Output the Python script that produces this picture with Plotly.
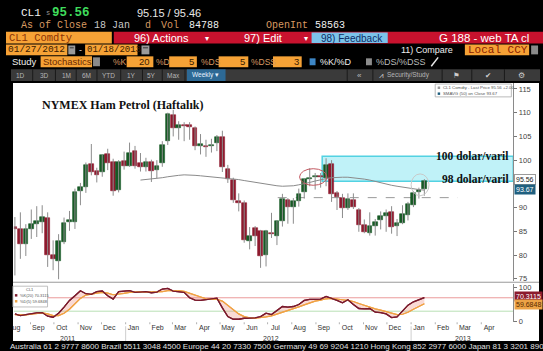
import plotly.graph_objects as go
import pandas as pd

W, H = 543, 351

# ---------------- data ----------------
week_dates = pd.date_range("2011-08-12", periods=76, freq="7D")

opens = [86.0, 85.5, 82.4, 85.4, 86.5, 87.0, 87.8, 80.0, 78.8, 82.7,
         87.0, 87.0, 93.4, 94.4, 99.2, 97.6, 97.5, 101.2, 99.6, 93.7,
         99.9, 98.8, 102.0, 99.4, 98.5, 99.6, 97.9, 99.4, 104.0, 109.6,
         106.8, 107.5, 107.3, 106.8, 103.0, 103.0, 102.9, 103.7, 104.9, 98.2,
         95.9, 91.3, 91.0, 83.0, 85.7, 85.1, 80.0, 84.6, 84.1, 87.1,
         91.5, 90.1, 91.4, 93.3, 96.0, 96.4, 96.5, 96.2, 99.2, 93.1,
         92.0, 90.0, 91.5, 89.4, 86.4, 84.6, 86.2, 87.4, 88.3, 89.0,
         86.2, 86.7, 88.5, 90.6, 93.2, 93.9]
highs = [88.0, 89.0, 86.5, 89.6, 90.3, 90.5, 89.0, 83.1, 84.4, 87.9,
         89.3, 94.0, 95.2, 99.5, 103.4, 98.4, 101.2, 102.4, 100.3, 100.0,
         101.8, 103.7, 103.0, 101.5, 100.5, 100.1, 100.0, 104.0, 110.0, 110.6,
         108.2, 108.0, 108.0, 107.1, 105.5, 104.3, 104.5, 105.3, 106.2, 99.0,
         96.3, 93.0, 91.5, 85.9, 86.1, 85.3, 85.3, 88.9, 87.2, 92.9,
         92.0, 92.0, 94.0, 96.1, 98.3, 97.3, 97.3, 100.4, 100.0, 93.5,
         92.9, 93.0, 93.0, 89.9, 87.5, 89.0, 87.6, 89.2, 89.6, 90.3,
         87.6, 90.5, 91.2, 93.5, 94.2, 96.0]
lows = [75.7, 79.2, 79.8, 83.4, 83.8, 84.6, 77.5, 76.8, 74.9, 82.3,
        85.1, 85.5, 90.5, 93.1, 96.8, 95.3, 96.5, 97.9, 92.5, 93.2,
        98.0, 98.6, 98.2, 97.6, 97.6, 95.4, 96.2, 98.6, 103.2, 105.0,
        104.3, 104.0, 104.3, 102.1, 101.2, 100.7, 101.6, 101.9, 97.5, 95.2,
        91.0, 89.2, 82.6, 81.2, 81.9, 77.3, 77.6, 83.6, 82.1, 86.0,
        86.6, 86.6, 90.2, 91.9, 94.5, 93.8, 94.2, 94.5, 91.2, 89.5,
        87.8, 89.5, 89.7, 84.9, 84.6, 84.1, 84.1, 85.4, 84.9, 84.5,
        84.0, 86.5, 87.3, 90.1, 91.9, 92.5]
closes = [85.4, 82.3, 85.4, 86.5, 87.2, 88.0, 79.9, 79.2, 83.0, 86.8,
          87.4, 93.3, 94.3, 99.0, 97.4, 96.8, 101.0, 99.4, 93.5, 99.7,
          98.8, 101.6, 98.7, 98.5, 99.6, 97.8, 98.7, 103.2, 109.8, 106.7,
          107.4, 107.1, 106.9, 103.0, 103.3, 102.8, 103.1, 104.9, 98.5, 96.1,
          91.5, 90.9, 83.2, 84.1, 84.0, 79.8, 85.0, 84.5, 87.1, 91.8,
          90.1, 91.4, 92.9, 96.0, 96.2, 96.5, 96.4, 99.0, 92.9, 92.2,
          89.9, 91.9, 90.1, 86.3, 84.9, 86.1, 86.9, 88.3, 88.9, 85.9,
          86.7, 88.7, 90.8, 93.1, 93.6, 95.56]

ma_first_week = 23
sma50 = [95.8, 95.9, 96.0, 96.1, 96.3, 96.5, 96.7, 96.8, 96.9, 96.9,
         96.8, 96.7, 96.6, 96.5, 96.4, 96.3, 96.2, 96.1, 95.9, 95.7,
         95.5, 95.3, 95.1, 94.9, 94.7, 94.6, 94.5, 94.5, 94.6, 94.8,
         95.0, 95.3, 95.6, 95.9, 96.1, 96.3, 96.4, 96.4, 96.4, 96.3,
         96.2, 96.0, 95.8, 95.5, 95.2, 94.9, 94.7, 94.5, 94.3, 94.1,
         93.9, 93.8, 93.67]

pct_k = [22, 17, 20, 23, 25, 26, 15, 12, 24, 42,
         62, 76, 91, 82, 80, 88, 90, 76, 66, 88,
         90, 91, 86, 87, 88, 85, 87, 96, 98, 90,
         88, 86, 70, 63, 62, 64, 66, 69, 40, 14,
         6, 6, 9, 10, 10, 14, 24, 20, 32, 44,
         42, 44, 50, 62, 65, 66, 66, 74, 69, 62,
         55, 64, 50, 38, 37, 38, 27, 26, 22, 11,
         13, 30, 48, 58, 63, 70.31]
pct_d = [20, 19, 19, 21, 23, 25, 22, 17, 17, 24,
         36, 52, 68, 78, 82, 84, 86, 84, 79, 80,
         83, 86, 88, 88, 87, 87, 86, 88, 91, 92,
         91, 89, 84, 78, 72, 67, 65, 65, 60, 48,
         34, 22, 14, 10, 9, 10, 13, 16, 21, 28,
         33, 38, 43, 49, 55, 60, 63, 67, 68, 67,
         64, 62, 59, 53, 47, 42, 37, 33, 29, 24,
         20, 21, 27, 36, 45, 52]

price_ticks = [75, 80, 85, 90, 100, 105, 110, 115]
osc_ticks = [0, 100]
osc_upper, osc_lower = 70, 30

# month labels sit a little after each month start, as in the terminal
month_starts = pd.date_range("2011-08-01", "2013-04-01", freq="MS")
month_label_pos = [m + pd.Timedelta(days=10) for m in month_starts]
month_label_txt = [m.strftime("%b") for m in month_starts]

# annotation geometry (data coordinates)
zone_start, zone_end = "2012-09-09", "2013-05-12"
zone_top, zone_bottom = 100.8, 95.56
ellipse_x = ("2012-08-11", "2012-09-15")
ellipse_y = (94.7, 98.2)
circle_x = ("2013-01-01", "2013-01-24")
circle_y = (92.5, 97.1)
support_x = ("2012-07-14", "2013-03-02")
support_y = 92.1
year_labels = [("2011", "2011-10-18"), ("2012", "2012-07-05"), ("2013", "2013-03-09")]
year_breaks = ["2012-01-01", "2013-01-01"]

# ---------------- helpers ----------------
MONO = "Liberation Mono"
SANS = "Liberation Sans"
SERIF = "Liberation Serif"
ORANGE = "#f6a236"
RED = "#c8122e"
BLUE = "#7cc3ea"
TAN = "#d89a62"

def px(x):
    return x / W

def py(y):
    return 1 - y / H

shapes = []
annotations = []

def rect(x0, y0, x1, y1, fill, line=None, lw=1, layer="above"):
    shapes.append(dict(type="rect", xref="paper", yref="paper",
                       x0=px(x0), x1=px(x1), y0=py(y1), y1=py(y0),
                       fillcolor=fill, layer=layer,
                       line=dict(color=line or fill, width=lw if line else 0)))

def seg(x0, y0, x1, y1, color, lw=1, dash="solid", layer="above"):
    shapes.append(dict(type="line", xref="paper", yref="paper",
                       x0=px(x0), x1=px(x1), y0=py(y0), y1=py(y1),
                       layer=layer, line=dict(color=color, width=lw, dash=dash)))

def text(x, y, s, size, color, family=SANS, anchor="left", bold=False, bg=None, border=None):
    d = dict(x=px(x), y=py(y), xref="paper", yref="paper",
             text=("<b>%s</b>" % s) if bold else s, showarrow=False,
             xanchor=anchor, yanchor="middle", borderpad=0,
             font=dict(size=size, color=color, family=family))
    if bg:
        d["bgcolor"] = bg
        d["borderpad"] = 1
    if border:
        d["bordercolor"] = border
        d["borderwidth"] = 1
    annotations.append(d)

# ---------------- traces ----------------
fig = go.Figure()

wx, wy = [], []
for d, lo, hi in zip(week_dates, lows, highs):
    wx += [d, d, None]
    wy += [lo, hi, None]
fig.add_trace(go.Scatter(x=wx, y=wy, mode="lines", line=dict(color="#8c8c8c", width=1),
                         hoverinfo="skip", xaxis="x", yaxis="y"))

body_base = [min(o, c) for o, c in zip(opens, closes)]
body_len = [max(abs(c - o), 0.15) for o, c in zip(opens, closes)]
body_col = ["#175a26" if c >= o else "#8e1a2e" for o, c in zip(opens, closes)]
fig.add_trace(go.Bar(x=week_dates, y=body_len, base=body_base,
                     width=6 * 86400000, marker=dict(color=body_col, line=dict(color=body_col, width=0.6)),
                     xaxis="x", yaxis="y"))

fig.add_trace(go.Scatter(x=week_dates[ma_first_week:], y=sma50, mode="lines",
                         line=dict(color="#8a8a8a", width=1), xaxis="x", yaxis="y"))

fig.add_trace(go.Scatter(x=week_dates, y=pct_d, mode="lines", line=dict(color="#f0a244", width=1.2),
                         xaxis="x", yaxis="y2"))
fig.add_trace(go.Scatter(x=week_dates, y=pct_k, mode="lines", line=dict(color="#7a1a2c", width=1.3),
                         fill="tonexty", fillcolor="rgba(236,140,125,0.32)", xaxis="x", yaxis="y2"))
fig.add_trace(go.Scatter(x=week_dates, y=pct_d, mode="lines", line=dict(color="#f0a244", width=1.2),
                         xaxis="x", yaxis="y2"))
fig.add_trace(go.Scatter(x=week_dates, y=pct_k, mode="lines", line=dict(color="#7a1a2c", width=1.3),
                         xaxis="x", yaxis="y2"))

# ---------------- background / frame shapes ----------------
rect(7, 84, 539, 345, "white", layer="below")
shapes.append(dict(type="rect", xref="x", yref="y", x0=zone_start, x1=zone_end,
                   y0=zone_bottom, y1=zone_top, fillcolor="rgba(150,234,244,0.6)",
                   line=dict(color="#52d2e2", width=1.5), layer="below"))
shapes.append(dict(type="line", xref="x", yref="y", x0=support_x[0], x1=support_x[1],
                   y0=support_y, y1=support_y, line=dict(color="#9a9a9a", width=1, dash="dash"),
                   layer="below"))
shapes.append(dict(type="circle", xref="x", yref="y", x0=ellipse_x[0], x1=ellipse_x[1],
                   y0=ellipse_y[0], y1=ellipse_y[1], line=dict(color="#c45a62", width=1)))
shapes.append(dict(type="circle", xref="x", yref="y", x0=circle_x[0], x1=circle_x[1],
                   y0=circle_y[0], y1=circle_y[1], line=dict(color="#c9c9c9", width=1)))
for lv, col in ((osc_upper, "#eb9a9a"), (osc_lower, "#b9e0b4")):
    shapes.append(dict(type="line", xref="x domain", yref="y2", x0=0, x1=1, y0=lv, y1=lv,
                       line=dict(color=col, width=1), layer="below"))
for yb in year_breaks:
    shapes.append(dict(type="line", xref="x", yref="paper", x0=yb, x1=yb,
                       y0=py(345), y1=py(330), line=dict(color="#cfcfcf", width=1)))
for m in month_starts:
    shapes.append(dict(type="line", xref="x", yref="paper", x0=m, x1=m,
                       y0=py(328), y1=py(326), line=dict(color="#b0b0b0", width=1)))
seg(7, 285.5, 539, 285.5, "#9a9a9a", 1)

rect(0, 82, 7, 351, "black")
rect(539, 82, 543, 351, "black")
rect(0, 345, 543, 351, "black")

# ---------------- header ----------------
text(14, 13, "CL1", 11, "#f0f0f0", MONO)
text(39, 13, "s", 7, "#9a9a9a", MONO)
text(46, 13, "95.56", 12.5, "#3fdc5c", MONO, bold=True)
text(131, 13, "95.15 / 95.46", 11, "#e6e6e6", SANS)

text(14, 26, "As of Close", 10, TAN, MONO)
text(88, 26, "18 Jan", 10, "#c9c9c9", MONO)
text(140, 26, "d", 10, TAN, MONO)
text(156, 26, "Vol", 10, TAN, MONO)
text(184, 26, "84788", 10, "#f0f0f0", MONO)
text(262, 26, "OpenInt", 10, TAN, MONO)
text(311, 26, "58563", 10, "#f0f0f0", MONO)

rect(0, 32, 107, 44, ORANGE)
rect(109, 32, 543, 44, RED)
rect(309, 33, 386, 43.5, BLUE)
text(2, 38, "CL1 Comdty", 10.5, "#8a3206", MONO)
text(128, 38.5, "96) Actions", 11, "white", SANS)
text(200, 38.5, "▾", 8, "white", SANS)
text(240, 38.5, "97) Edit", 11, "white", SANS)
text(300, 38.5, "▾", 8, "white", SANS)
text(318, 38.5, "98) Feedback", 10, "#0d2c66", SANS)
text(437, 38.5, "G 188 - web TA cl", 11.5, "white", SANS)

rect(0, 45, 62, 56, ORANGE)
text(1, 50.5, "01/27/2012", 9.5, "#3a1a00", MONO)
rect(63, 46, 70, 55, "#9a9a9a")
rect(64.5, 47.5, 68.5, 49, "#555555")
text(73, 50.5, "-", 9, "#dddddd", SANS)
rect(80, 45, 133, 56, ORANGE)
text(81, 50.5, "01/18/2013", 9, "#3a1a00", MONO)
rect(137, 46, 145, 55, "#9a9a9a")
rect(138.5, 47.5, 143.5, 49, "#555555")
text(398, 50.5, "11) Compare", 9, "#eeeeee", SANS)
rect(464, 45, 529, 56, ORANGE)
text(466, 50.5, "Local CCY", 11, "#8a2000", MONO)
rect(531, 46, 538, 55, "#8a8a8a")

text(5, 62.5, "Study", 9.5, "#eeeeee", SANS)
rect(35, 57, 87, 68, ORANGE)
text(36, 62.5, "Stochastics", 9.5, "#6b2a00", SANS)
rect(88, 58, 95, 67, "#8a8a8a")
text(107, 62.5, "%K", 8.5, TAN, SANS)
rect(122, 57, 149, 68, ORANGE)
text(147, 62.5, "20", 9.5, "#3a1a00", SANS, anchor="right")
text(151, 62.5, "%D", 8.5, TAN, SANS)
rect(165, 57, 193, 68, ORANGE)
text(191, 62.5, "5", 9.5, "#3a1a00", SANS, anchor="right")
text(196, 62.5, "%DS", 8.5, TAN, SANS)
rect(215, 57, 245, 68, ORANGE)
text(243, 62.5, "5", 9.5, "#3a1a00", SANS, anchor="right")
text(247, 62.5, "%DSS", 8.5, TAN, SANS)
rect(270, 57, 299, 68, ORANGE)
text(297, 62.5, "3", 9.5, "#3a1a00", SANS, anchor="right")
rect(307, 59, 313, 66, "#3d86c6")
text(316, 62.5, "%K/%D", 9, "#eeeeee", SANS)
rect(364, 59, 370, 66, "#8c8c8c")
text(373, 62.5, "%DS/%DSS", 9, "#bbbbbb", SANS)
seg(430, 67, 437, 58, "#e8e8e8", 1.5)

rect(5, 70, 540, 82, "#3a3a3a")
for sx in (27, 50, 71, 92, 116, 138, 158, 181, 345, 371, 441, 471, 504):
    seg(sx, 70, sx, 82, "#1a1a1a", 1)
rect(183, 70, 222, 82, "#2d6995")
for lab, cx in (("1D", 15), ("3D", 39), ("1M", 61), ("6M", 81), ("YTD", 104),
                ("1Y", 127), ("5Y", 147), ("Max", 169)):
    text(cx, 76, lab, 6.5, "#b5b5b5", SANS, anchor="center")
text(202, 76, "Weekly ▾", 6.5, "#e5f1ff", SANS, anchor="center")
text(357, 76, "«", 8, "#bbbbbb", SANS, anchor="center")
text(380, 76, "⩘", 8, "#cccccc", "DejaVu Sans", anchor="center")
text(407, 76, "Security/Study", 6.5, "#b5b5b5", SANS, anchor="center")
text(456, 76, "⚑", 7.5, "#cccccc", "DejaVu Sans", anchor="center")
text(487, 76, "✔", 7.5, "#cccccc", "DejaVu Sans", anchor="center")
text(521, 76, "⚙", 8, "#cccccc", "DejaVu Sans", anchor="center")

# ---------------- chart texts ----------------
text(35, 106, "NYMEX Ham Petrol (Haftalık)", 12, "#111111", SERIF, bold=True)
text(510, 157.5, "100 dolar/varil", 11.5, "#111111", SERIF, anchor="right", bold=True)
text(510, 181.5, "98 dolar/varil", 11.5, "#111111", SERIF, anchor="right", bold=True)

rect(434, 85, 511, 98, "white", line="#a8a8a8", lw=0.8)
rect(436.5, 87.5, 439, 90, "#9a9a9a")
text(441, 89, "CL1 Comdty - Last Price 95.56 +2.00", 4.3, "#555555", SANS)
rect(436.5, 93.5, 439, 96, "#1f5f7f")
text(441, 95, "SMAVG (50) on Close 93.67", 4.3, "#555555", SANS)

text(514, 181.5, "95.56", 7, "#222222", SANS, bg="white", border="#9a9a9a")
text(514, 192, "93.67", 7, "white", SANS, bg="#1f5f7f")
text(514, 300, "70.3115", 7, "white", SANS, bg="#8b1b2d")
text(514, 308.5, "59.6848", 7, "#5a2a00", SANS, bg="#eca346")

rect(7, 289.5, 42, 310.5, "white", line="#b0b0b0", lw=0.8)
text(24.5, 293, "CL1", 4, "#555555", SANS, anchor="center")
rect(9, 297.5, 11.5, 300, "#7a1a2c")
text(13, 299, "%K(20) 70.3115", 4, "#555555", SANS)
rect(9, 303.5, 11.5, 306, "#eca346")
text(13, 305, "%D(5) 59.6848", 4, "#555555", SANS)

for lab, xd in year_labels:
    annotations.append(dict(x=xd, y=py(342.5), xref="x", yref="paper", text=lab, showarrow=False,
                            xanchor="center", yanchor="middle",
                            font=dict(size=7, color="#333333", family=SANS)))

text(3, 350.5, "Australia 61 2 9777 8600 Brazil 5511 3048 4500 Europe 44 20 7330 7500 Germany 49 69 9204 1210 "
     "Hong Kong 852 2977 6000 Japan 81 3 3201 8900 Singapore 65 6212 1000 U.S. 1 212 318 2000",
     8, "#e0e0e0", SANS)

# ---------------- layout ----------------
x_dom = [px(8), px(513)]
fig.update_layout(
    width=W, height=H, autosize=False,
    margin=dict(l=0, r=0, t=0, b=0, pad=0),
    paper_bgcolor="black", plot_bgcolor="white",
    showlegend=False, bargap=0,
    shapes=shapes, annotations=annotations,
    xaxis=dict(domain=x_dom, anchor="y2", type="date",
               range=["2011-08-10 17:30", "2013-05-12 02:00"],
               tickmode="array", tickvals=month_label_pos, ticktext=month_label_txt,
               ticks="", showgrid=False, zeroline=False, showline=False,
               tickfont=dict(size=7, color="#333333", family=SANS)),
    yaxis=dict(domain=[py(284), py(84)], anchor="x", side="right",
               range=[74.58, 116.25], tickvals=price_ticks, ticks="outside", ticklen=3,
               tickcolor="#777777", showgrid=False, zeroline=False,
               showline=True, linecolor="#8a8a8a", linewidth=1,
               tickfont=dict(size=7.5, color="#444444", family=SANS)),
    yaxis2=dict(domain=[py(326), py(287)], anchor="x", side="right",
                range=[-3.0, 111.8], tickvals=osc_ticks, ticks="outside", ticklen=3,
                tickcolor="#777777", showgrid=False, zeroline=False,
                showline=True, linecolor="#8a8a8a", linewidth=1,
                tickfont=dict(size=7.5, color="#444444", family=SANS)),
)

fig.write_html("out.html")
